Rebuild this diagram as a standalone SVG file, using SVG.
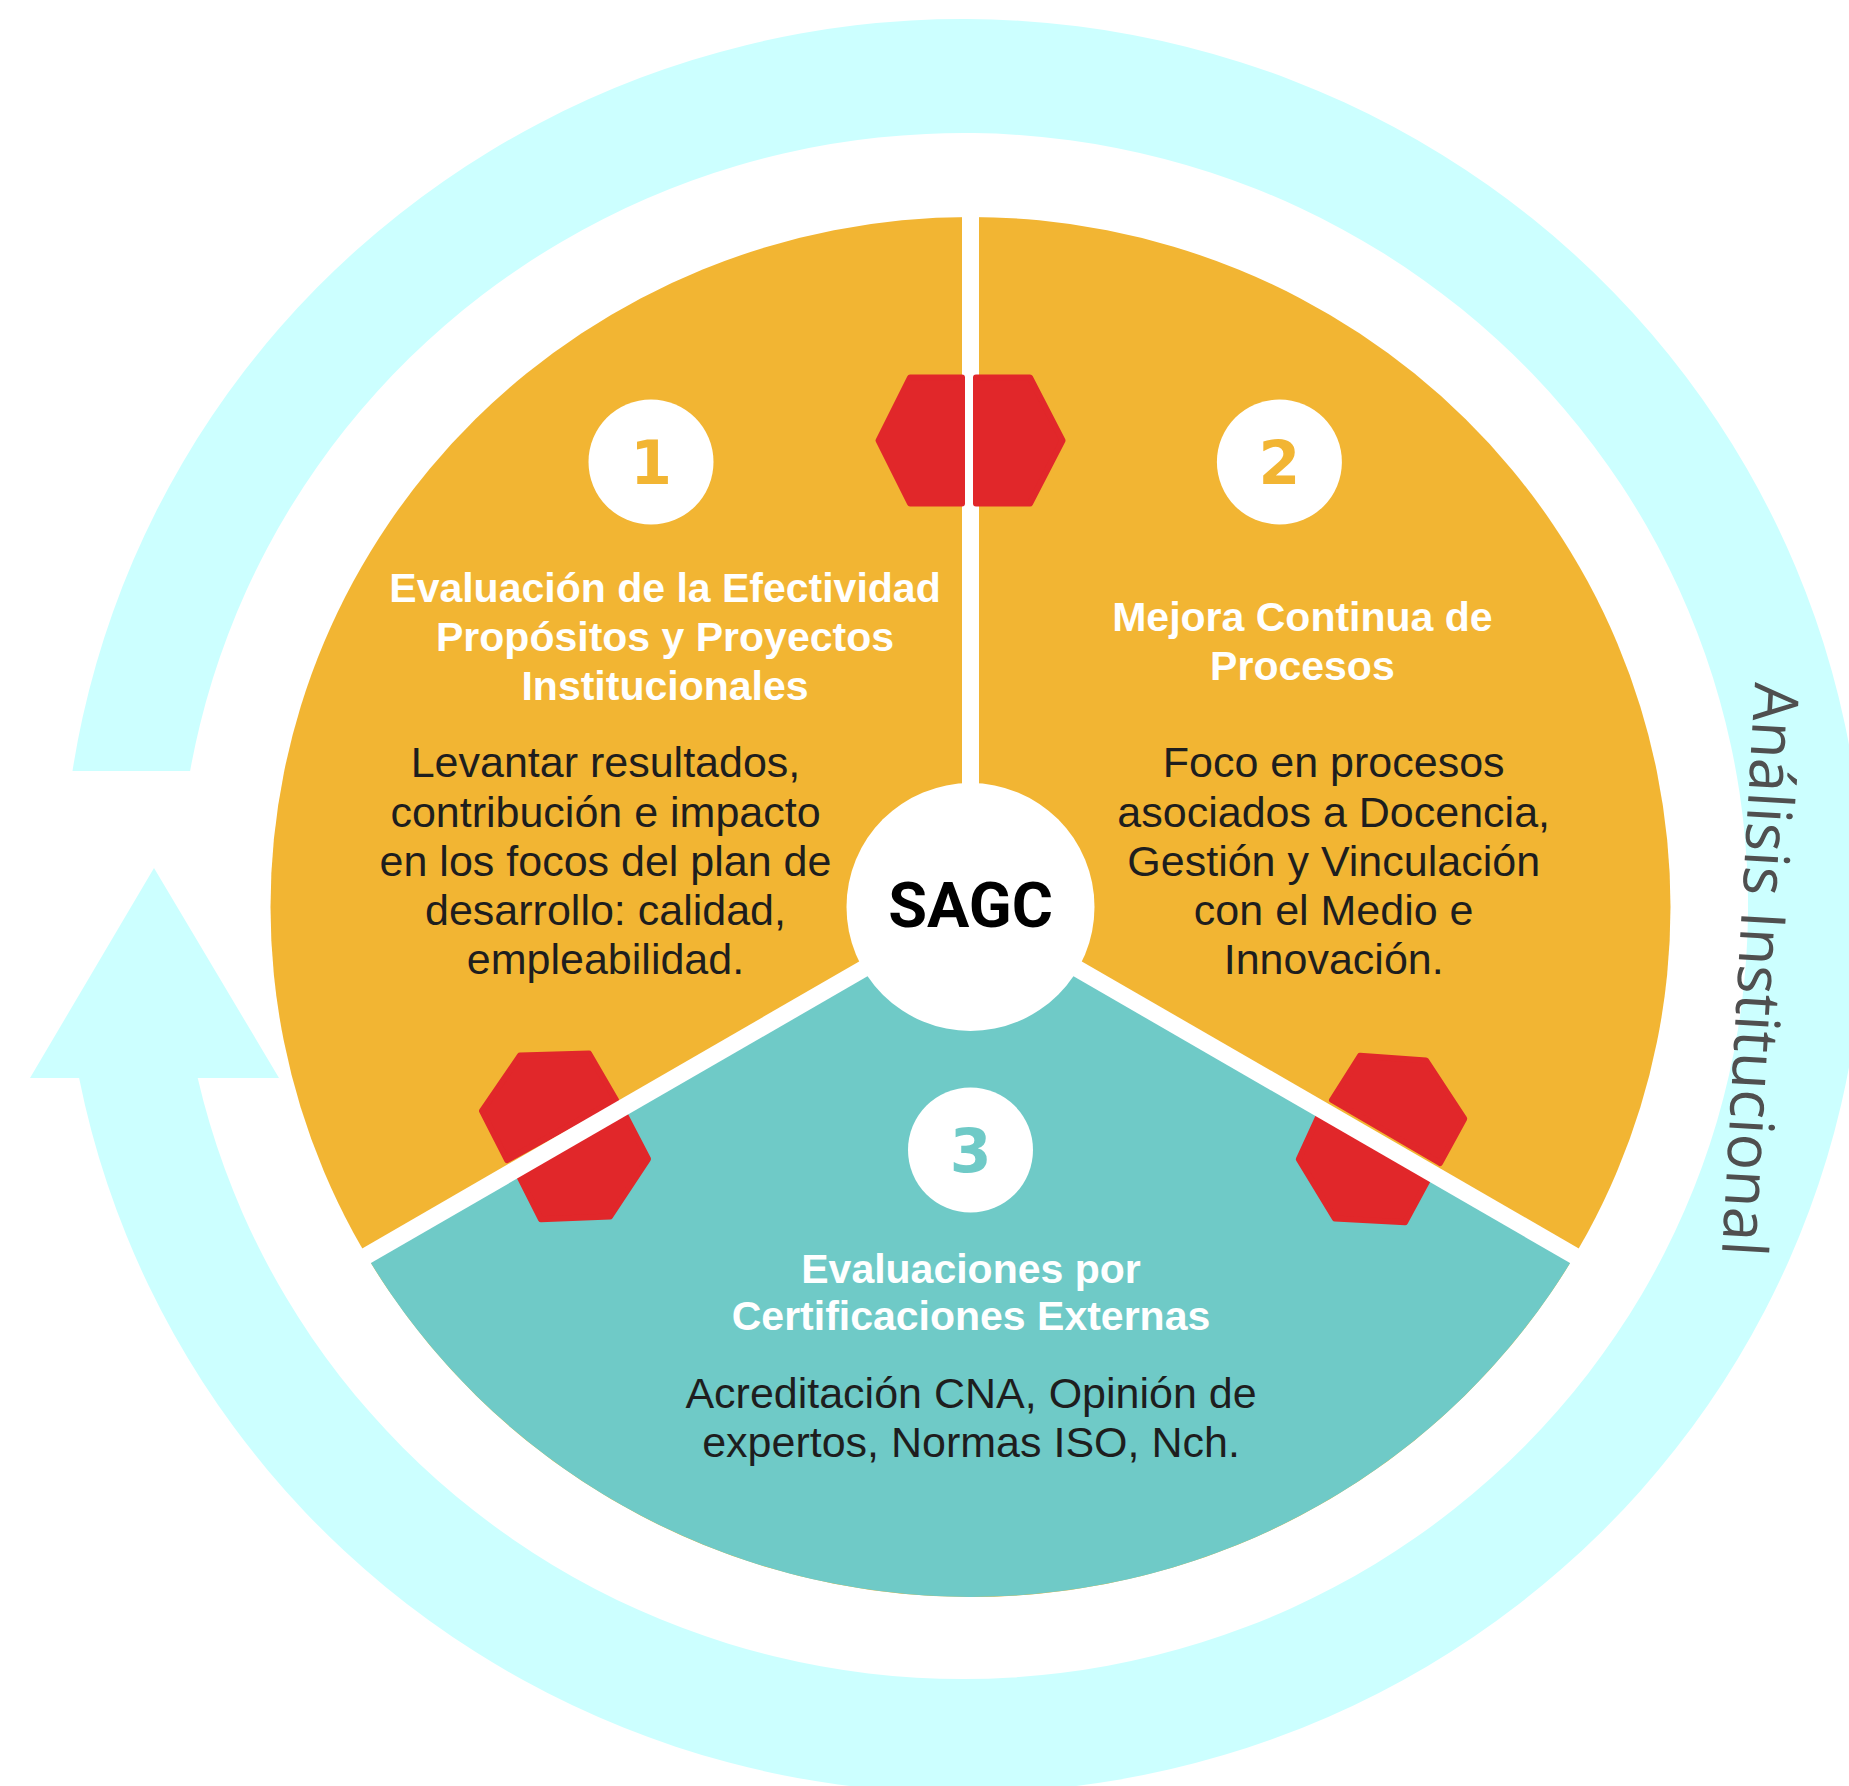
<svg xmlns="http://www.w3.org/2000/svg" width="1849" height="1786" viewBox="0 0 1849 1786">
<style>
.ring{fill:#CCFFFF}
.orange{fill:#F2B533}
.teal{fill:#6FCAC7}
.divider{stroke:#FFFFFF;stroke-width:17;fill:none}
.hex{fill:#E1272A;stroke:#E1272A;stroke-width:6;stroke-linejoin:round}
.badge{fill:#FFFFFF}
.num{font-family:"DejaVu Sans",sans-serif;font-weight:bold;font-size:60px;text-anchor:middle}
.head{font-family:"Liberation Sans",Arial,sans-serif;font-weight:bold;font-size:41px;fill:#FFFFFF;text-anchor:middle}
.body{font-family:"Liberation Sans",Arial,sans-serif;font-size:43px;fill:#1E1E1E;text-anchor:middle}
.core{font-family:Roboto,"Liberation Sans",sans-serif;font-weight:bold;font-size:63px;fill:#000000;text-anchor:middle}
.cycle{font-family:"Open Sans","Liberation Sans",sans-serif;font-size:62px;fill:#4F4F4F}
</style>
<rect width="1849" height="1786" fill="#FFFFFF"/>

<g id="connectors">
  <path class="ring" d="M 72.5,771 A 901 887 0 1 1 79.1,1078 L 30,1078 L 154,868 L 279,1078 L 197.7,1078 A 785 773 0 1 0 190.1,771 Z"/>
  <text class="cycle" transform="translate(1755,682) rotate(93.3)" x="0" y="0" textLength="574" lengthAdjust="spacingAndGlyphs">Análisis Institucional</text>
</g>

<g id="pie">
  <ellipse class="orange" cx="970.5" cy="907" rx="700" ry="690"/>
  <path class="teal" d="M 970.5,907 L 366.5,1255.7 A 700 690 0 0 0 1574.5,1255.7 Z"/>
  <line class="divider" x1="970.5" y1="907" x2="970.5" y2="195"/>
</g>

<g id="hexagons">
  <polygon class="hex" points="878.5,440.5 910,377.5 962,377.5 962,503.5 910,503.5"/>
  <polygon class="hex" points="976,377.5 1030,377.5 1062.5,440.5 1030,503.5 976,503.5"/>
  <polygon class="hex" points="520,1055.5 589,1053.6 616,1100 507,1160 482,1111"/>
  <polygon class="hex" points="515,1168 623,1111 648,1159 610,1216.5 541,1219.3"/>
  <polygon class="hex" points="1360,1055.8 1426,1060.5 1464.2,1118.7 1440,1163 1332,1100"/>
  <polygon class="hex" points="1320,1113 1430,1176 1405,1222.3 1335,1218.6 1298.8,1159.3"/>
</g>

<g id="dividers">
  <line class="divider" x1="970.5" y1="907" x2="347" y2="1267"/>
  <line class="divider" x1="970.5" y1="907" x2="1594" y2="1267"/>
</g>

<g id="node-sagc">
  <circle class="badge" cx="970.5" cy="907" r="124"/>
  <text class="core" x="970.5" y="927">SAGC</text>
</g>

<g id="node-1">
  <circle class="badge" cx="651" cy="462" r="62.5"/>
  <text class="num" x="651" y="484" fill="#F2B533">1</text>
  <text class="head" x="665" y="602">Evaluación de la Efectividad</text>
  <text class="head" x="665" y="651">Propósitos y Proyectos</text>
  <text class="head" x="665" y="700">Institucionales</text>
  <text class="body" x="605.5" y="777">Levantar resultados,</text>
  <text class="body" x="605.5" y="826.5">contribución e impacto</text>
  <text class="body" x="605.5" y="876">en los focos del plan de</text>
  <text class="body" x="605.5" y="925">desarrollo: calidad,</text>
  <text class="body" x="605.5" y="974">empleabilidad.</text>
</g>

<g id="node-2">
  <circle class="badge" cx="1279.4" cy="462" r="62.5"/>
  <text class="num" x="1279.4" y="484" fill="#F2B533">2</text>
  <text class="head" x="1302.4" y="631">Mejora Continua de</text>
  <text class="head" x="1302.4" y="680">Procesos</text>
  <text class="body" x="1333.7" y="777">Foco en procesos</text>
  <text class="body" x="1333.7" y="826.5">asociados a Docencia,</text>
  <text class="body" x="1333.7" y="876">Gestión y Vinculación</text>
  <text class="body" x="1333.7" y="925">con el Medio e</text>
  <text class="body" x="1333.7" y="974">Innovación.</text>
</g>

<g id="node-3">
  <circle class="badge" cx="970.5" cy="1150" r="62.5"/>
  <text class="num" x="970.5" y="1172" fill="#6FCAC7">3</text>
  <text class="head" x="971" y="1283">Evaluaciones por</text>
  <text class="head" x="971" y="1330">Certificaciones Externas</text>
  <text class="body" x="971" y="1408">Acreditación CNA, Opinión de</text>
  <text class="body" x="971" y="1457">expertos, Normas ISO, Nch.</text>
</g>
</svg>
